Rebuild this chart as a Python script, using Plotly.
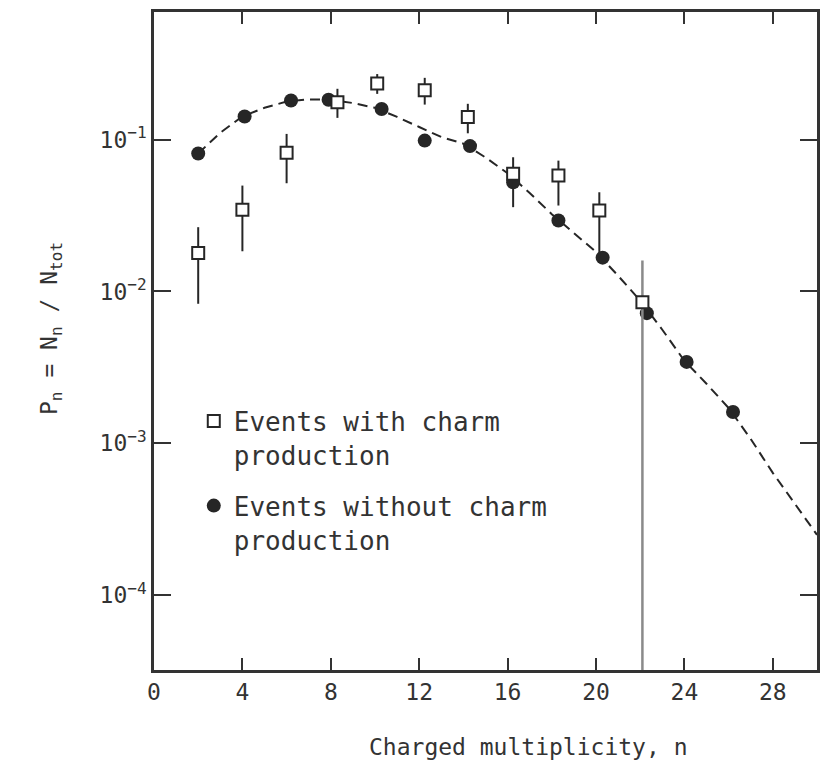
import plotly.graph_objects as go

# Charged multiplicity distributions, P_n = N_n / N_tot (log scale)

# Events without charm production (filled circles)
n_nocharm = [2.0, 4.1, 6.2, 7.9, 10.3, 12.25, 14.3, 16.25, 18.3, 20.3, 22.3, 24.1, 26.2]
p_nocharm = [0.081, 0.142, 0.181, 0.183, 0.159, 0.0985, 0.0906, 0.0524, 0.0293,
             0.0167, 0.0072, 0.00344, 0.00161]

# Events with charm production (open squares) and their error-bar bounds
n_charm = [2.0, 4.0, 6.0, 8.3, 10.1, 12.25, 14.2, 16.25, 18.3, 20.15, 22.1]
p_charm = [0.0179, 0.0345, 0.0818, 0.176, 0.234, 0.211, 0.1406, 0.0595, 0.058, 0.0341, 0.0085]
p_charm_hi = [0.0265, 0.0498, 0.109, 0.216, 0.270, 0.255, 0.172, 0.0765, 0.0727, 0.045, 0.016]
p_charm_lo = [0.0083, 0.0184, 0.0516, 0.139, 0.200, 0.170, 0.110, 0.0359, 0.0368, 0.0168, 0.0]

# Dashed curve drawn through the no-charm distribution
n_curve = list(range(2, 31))
p_curve = [0.081, 0.111, 0.142, 0.162, 0.178, 0.184, 0.183, 0.174, 0.162, 0.141,
           0.121, 0.104, 0.094, 0.0763, 0.060, 0.0445, 0.0323, 0.0241, 0.0182, 0.0127,
           0.0087, 0.0056, 0.0035, 0.00247, 0.00171, 0.00107, 0.00064, 0.00040, 0.00025]

x_ticks = [0, 4, 8, 12, 16, 20, 24, 28]
y_ticks = [1e-4, 1e-3, 1e-2, 1e-1]
y_ticktext = ["10<sup>\u22124</sup>", "10<sup>\u22123</sup>", "10<sup>\u22122</sup>", "10<sup>\u22121</sup>"]

INK = "#262626"
TEXT = "#333333"
FONT = "DejaVu Sans Mono, DejaVu Sans, sans-serif"

fig = go.Figure()

fig.add_trace(go.Scatter(
    x=n_curve, y=p_curve, mode="lines",
    line=dict(color=INK, width=2, dash="10px,6px"),
    showlegend=False, hoverinfo="skip",
))

fig.add_trace(go.Scatter(
    x=n_nocharm, y=p_nocharm, mode="markers",
    name="Events without charm<br>production",
    marker=dict(symbol="circle", size=14, color=INK, line=dict(width=0)),
    legendgroup="nocharm", legendrank=2,
))

# squares with black error bars (all but the last multiplicity bin)
k = len(n_charm) - 1
fig.add_trace(go.Scatter(
    x=n_charm[:k], y=p_charm[:k], mode="markers",
    name="Events with charm<br>production",
    marker=dict(symbol="square", size=12, color="white", line=dict(color=INK, width=2)),
    error_y=dict(type="data", symmetric=False,
                 array=[h - v for h, v in zip(p_charm_hi[:k], p_charm[:k])],
                 arrayminus=[v - l for v, l in zip(p_charm[:k], p_charm_lo[:k])],
                 color=INK, thickness=2, width=0),
    legendgroup="charm", legendrank=1,
))

# last bin: error bar reaching down to zero, drawn in grey
fig.add_trace(go.Scatter(
    x=n_charm[k:], y=p_charm[k:], mode="markers",
    marker=dict(symbol="square", size=12, color="white", line=dict(color=INK, width=2)),
    error_y=dict(type="data", symmetric=False,
                 array=[p_charm_hi[k] - p_charm[k]],
                 arrayminus=[p_charm[k] - p_charm_lo[k]],
                 color="#8a8a8a", thickness=2.5, width=0),
    legendgroup="charm", showlegend=False,
))

axis_common = dict(
    showline=True, linecolor="#333333", linewidth=2.5, mirror="allticks",
    ticks="inside", tickcolor="#333333", tickwidth=2,
    showgrid=False, zeroline=False,
    tickfont=dict(family=FONT, size=23, color=TEXT),
)

fig.update_xaxes(range=[0, 30], tickvals=x_ticks, ticklen=12, **axis_common)
fig.update_yaxes(type="log", range=[-4.492, -0.16], tickvals=y_ticks, ticktext=y_ticktext,
                 ticklen=17, **axis_common)

fig.add_annotation(
    text="Charged multiplicity, n", xref="paper", yref="paper",
    x=0.565, y=0, yshift=-92, showarrow=False,
    font=dict(family=FONT, size=23, color=TEXT),
)
fig.add_annotation(
    text="P<sub>n</sub> = N<sub>n</sub> / N<sub>tot</sub>", xref="paper", yref="paper",
    x=0, xshift=-120, y=0.5, yshift=12, textangle=-90, showarrow=False,
    font=dict(family=FONT, size=23, color=TEXT),
)

fig.update_layout(
    width=829, height=772,
    margin=dict(l=154, r=9, t=10, b=102),
    paper_bgcolor="white", plot_bgcolor="white",
    legend=dict(x=0.06, y=0.414, xanchor="left", yanchor="top",
                font=dict(family=FONT, size=26, color=TEXT),
                bgcolor="rgba(0,0,0,0)", valign="top",
                traceorder="grouped", tracegroupgap=14),
)

fig.write_html("out.html")
